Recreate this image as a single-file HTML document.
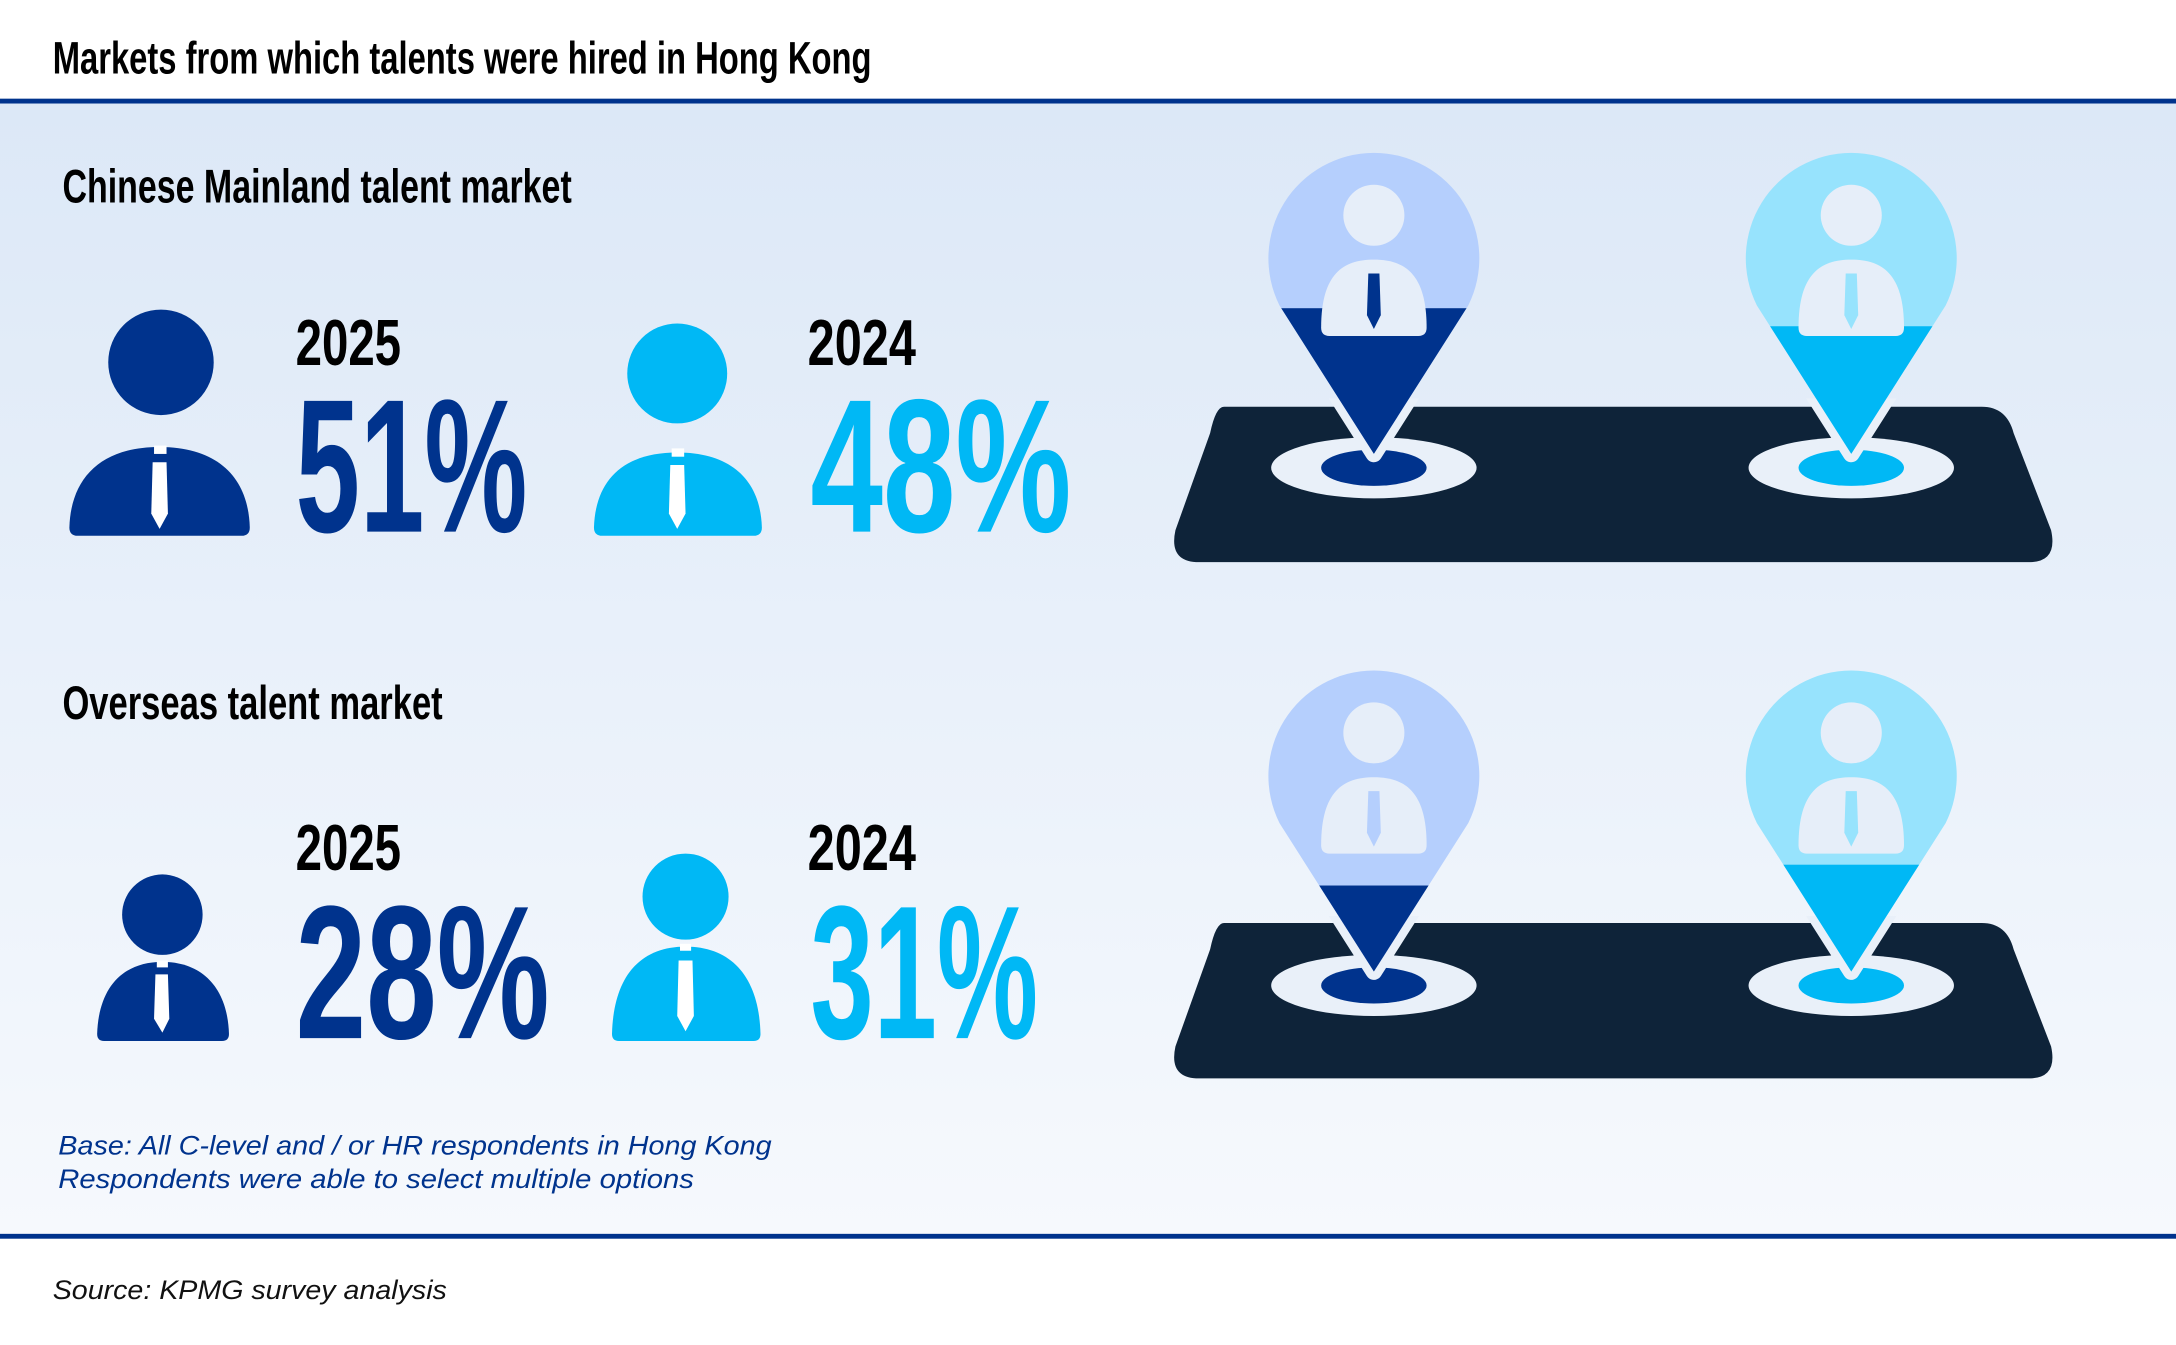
<!DOCTYPE html>
<html><head><meta charset="utf-8"><style>html,body{margin:0;padding:0;background:#fff}svg{display:block}</style></head>
<body>
<svg width="2176" height="1345" viewBox="0 0 1568 969" xmlns="http://www.w3.org/2000/svg">
<defs>
<linearGradient id="bg" x1="0" y1="0" x2="0" y2="1">
<stop offset="0" stop-color="#dce8f7"/><stop offset="1" stop-color="#f6f9fd"/>
</linearGradient>
<path id="pinshape" d="M0,140 L-68,33 A76,76 0 1 1 68,33 Z"/>
<clipPath id="pc"><use href="#pinshape"/></clipPath>
<clipPath id="lowc"><rect x="-100" y="100" width="200" height="100"/></clipPath>
<g id="pbody">
<circle cx="0" cy="-32" r="22" fill="#e6eef9"/>
<path d="M-38,49 C-38,10 -22,0 0,0 C22,0 38,10 38,49 Q38,55 32,55 H-32 Q-38,55 -38,49 Z" fill="#e6eef9"/>
</g>
</defs>
<rect width="1568" height="969" fill="#fff"/>
<rect x="0" y="73" width="1568" height="818" fill="url(#bg)"/>
<rect x="0" y="71" width="1568" height="3.5" fill="#00338d"/>
<rect x="0" y="889" width="1568" height="3.5" fill="#00338d"/>
<g font-family="'Liberation Sans Narrow','Liberation Sans',sans-serif" font-weight="bold">
<text x="38" y="53" font-size="33" textLength="590" lengthAdjust="spacingAndGlyphs">Markets from which talents were hired in Hong Kong</text>
<text x="45" y="146" font-size="34" textLength="367" lengthAdjust="spacingAndGlyphs">Chinese Mainland talent market</text>
<text x="45" y="518" font-size="34" textLength="274" lengthAdjust="spacingAndGlyphs">Overseas talent market</text>
<text x="213" y="263" font-size="47" textLength="76" lengthAdjust="spacingAndGlyphs">2025</text>
<text x="582" y="263" font-size="47" textLength="78" lengthAdjust="spacingAndGlyphs">2024</text>
<text x="213" y="627" font-size="47" textLength="76" lengthAdjust="spacingAndGlyphs">2025</text>
<text x="582" y="627" font-size="47" textLength="78" lengthAdjust="spacingAndGlyphs">2024</text>
<text x="213" y="383" font-size="137" fill="#00338d" textLength="167" lengthAdjust="spacingAndGlyphs">51%</text>
<text x="584" y="383" font-size="137" fill="#00b8f5" textLength="188" lengthAdjust="spacingAndGlyphs">48%</text>
<text x="213" y="748" font-size="137" fill="#00338d" textLength="183" lengthAdjust="spacingAndGlyphs">28%</text>
<text x="584" y="748" font-size="137" fill="#00b8f5" textLength="164" lengthAdjust="spacingAndGlyphs">31%</text>
</g>
<g font-family="'Liberation Sans',sans-serif" font-style="italic" font-size="19">
<text x="42" y="832" fill="#00338d" textLength="514" lengthAdjust="spacingAndGlyphs">Base: All C-level and / or HR respondents in Hong Kong</text>
<text x="42" y="856" fill="#00338d" textLength="458" lengthAdjust="spacingAndGlyphs">Respondents were able to select multiple options</text>
<text x="38" y="936" fill="#111" textLength="284" lengthAdjust="spacingAndGlyphs">Source: KPMG survey analysis</text>
</g>
<!-- person icons -->
<g fill="#00338d">
<circle cx="116" cy="261" r="38"/>
<path d="M50,380 C51,345 72,322 115,322 C158,322 179,345 180,380 Q180,386 174,386 H56 Q50,386 50,380 Z"/>
</g>
<g fill="#fff"><rect x="111" y="321" width="9" height="6"/><polygon points="110,333 120,333 121,370 115,381 109,370"/></g>
<g fill="#00b8f5">
<circle cx="488" cy="269" r="36"/>
<path d="M428,380 C429,347 448,326 488,326 C528,326 548,347 549,380 Q549,386 543,386 H434 Q428,386 428,380 Z"/>
</g>
<g fill="#fff"><rect x="484" y="323" width="9" height="6"/><polygon points="483,335 493,335 494,370 488,381 482,370"/></g>
<g fill="#00338d">
<circle cx="117" cy="659" r="29"/>
<path d="M70,745 C71,712 88,693 117,693 C146,693 164,712 165,745 Q165,750 160,750 H75 Q70,750 70,745 Z"/>
</g>
<g fill="#fff"><rect x="113" y="692" width="8" height="5"/><polygon points="112,702 121,702 122,734 117,744 111,734"/></g>
<g fill="#00b8f5">
<circle cx="494" cy="646" r="31"/>
<path d="M441,745 C442,705 460,682 494,682 C528,682 547,705 548,745 Q548,750 543,750 H446 Q441,750 441,745 Z"/>
</g>
<g fill="#fff"><rect x="490" y="680" width="8" height="5"/><polygon points="489,692 499,692 500,732 494,743 488,732"/></g>
<!-- platforms -->
<path d="M882,293 H1428 Q1446,293 1451,312 L1478,382 Q1483,405 1462,405 H864 Q842,405 847,382 L872,312 Q876,293 882,293 Z" fill="#0e2339"/>
<path transform="translate(0,372)" d="M882,293 H1428 Q1446,293 1451,312 L1478,382 Q1483,405 1462,405 H864 Q842,405 847,382 L872,312 Q876,293 882,293 Z" fill="#0e2339"/>
<g transform="translate(990,187)">
<ellipse cx="0" cy="150" rx="74" ry="22" fill="#e9f0f9"/><ellipse cx="0" cy="150" rx="38" ry="13" fill="#00338d"/>
<use href="#pinshape" fill="none" stroke="#e9f0f9" stroke-width="12" stroke-linejoin="round" clip-path="url(#lowc)"/>
<use href="#pinshape" fill="#b5cffd"/>
<rect x="-80" y="35" width="160" height="120" fill="#00338d" clip-path="url(#pc)"/>
<use href="#pbody"/>
<polygon points="-4,10 4,10 5,40 0,50 -5,40" fill="#00338d"/>
</g>
<g transform="translate(1334,187)">
<ellipse cx="0" cy="150" rx="74" ry="22" fill="#e9f0f9"/><ellipse cx="0" cy="150" rx="38" ry="13" fill="#00b8f5"/>
<use href="#pinshape" fill="none" stroke="#e9f0f9" stroke-width="12" stroke-linejoin="round" clip-path="url(#lowc)"/>
<use href="#pinshape" fill="#97e3fd"/>
<rect x="-80" y="48" width="160" height="110" fill="#00b8f5" clip-path="url(#pc)"/>
<use href="#pbody"/>
<polygon points="-4,10 4,10 5,40 0,50 -5,40" fill="#97e3fd"/>
</g>
<g transform="translate(990,560)">
<ellipse cx="0" cy="150" rx="74" ry="22" fill="#e9f0f9"/><ellipse cx="0" cy="150" rx="38" ry="13" fill="#00338d"/>
<use href="#pinshape" fill="none" stroke="#e9f0f9" stroke-width="12" stroke-linejoin="round" clip-path="url(#lowc)"/>
<use href="#pinshape" fill="#b5cffd"/>
<rect x="-80" y="78" width="160" height="80" fill="#00338d" clip-path="url(#pc)"/>
<use href="#pbody"/>
<polygon points="-4,10 4,10 5,40 0,50 -5,40" fill="#b5cffd"/>
</g>
<g transform="translate(1334,560)">
<ellipse cx="0" cy="150" rx="74" ry="22" fill="#e9f0f9"/><ellipse cx="0" cy="150" rx="38" ry="13" fill="#00b8f5"/>
<use href="#pinshape" fill="none" stroke="#e9f0f9" stroke-width="12" stroke-linejoin="round" clip-path="url(#lowc)"/>
<use href="#pinshape" fill="#97e3fd"/>
<rect x="-80" y="63" width="160" height="95" fill="#00b8f5" clip-path="url(#pc)"/>
<use href="#pbody"/>
<polygon points="-4,10 4,10 5,40 0,50 -5,40" fill="#97e3fd"/>
</g>
</svg>
</body></html>
